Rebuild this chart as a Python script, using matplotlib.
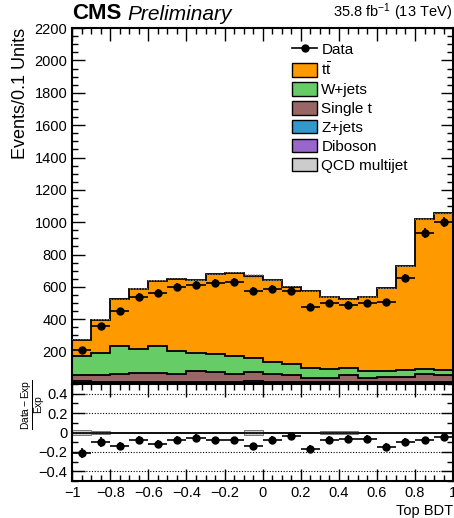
import numpy as np
import matplotlib
matplotlib.use('Agg')
import matplotlib.pyplot as plt
from matplotlib.patches import Patch
from matplotlib.lines import Line2D

plt.rcParams['font.family'] = ['Liberation Sans', 'DejaVu Sans']
plt.rcParams['mathtext.fontset'] = 'custom'
plt.rcParams['mathtext.rm'] = 'Liberation Sans'
plt.rcParams['mathtext.it'] = 'Liberation Sans:italic'
plt.rcParams['hatch.linewidth'] = 0.8

# binning of Top BDT
edges = np.linspace(-1, 1, 21)

# event counts per bin
data = [213, 356, 451, 540, 561, 599, 609, 625, 632, 574,
        590, 574, 478, 499, 489, 499, 505, 657, 935, 1001]
# stacked tops of the total, W+jets and single t layers
top_total = [271, 395, 526, 586, 636, 650, 644, 681, 686, 669,
             640, 598, 574, 540, 524, 536, 592, 727, 1017, 1055]
top_wjets = [171, 192, 233, 215, 233, 204, 192, 186, 171, 163,
             136, 123, 101, 94, 101, 80, 80, 84, 94, 84]
top_singlet = [57, 53, 59, 70, 70, 63, 80, 74, 63, 76,
               61, 57, 36, 36, 53, 36, 42, 42, 59, 57]
qcd = [4, 2, 2, 2, 2, 2, 2, 2, 2, 6, 2, 2, 2, 2, 2, 2, 2, 2, 2, 2]
diboson = [3, 3, 3, 3, 3, 3, 3, 3, 3, 3, 2, 2, 2, 2, 2, 2, 2, 2, 2, 2]
zjets = [9, 8, 9, 10, 10, 9, 10, 10, 9, 9, 8, 8, 6, 6, 7, 6, 6, 6, 7, 7]
# relative MC uncertainty
rel_unc = [0.03, 0.012, 0.01, 0.01, 0.01, 0.01, 0.01, 0.01, 0.01, 0.03,
           0.01, 0.01, 0.01, 0.012, 0.012, 0.01, 0.01, 0.008, 0.008, 0.008]

data = np.array(data, float)
top_total = np.array(top_total, float)
top_wjets = np.array(top_wjets, float)
top_singlet = np.array(top_singlet, float)
qcd = np.array(qcd, float)
diboson = np.array(diboson, float)
zjets = np.array(zjets, float)
rel_unc = np.array(rel_unc)

singlet = top_singlet - qcd - diboson - zjets
wjets = top_wjets - top_singlet
ttbar = top_total - top_wjets

# stack order bottom -> top
layers = [
    (qcd, '#cccccc', 'QCD multijet'),
    (diboson, '#9966cc', 'Diboson'),
    (zjets, '#3399cc', 'Z+jets'),
    (singlet, '#996666', 'Single t'),
    (wjets, '#66cc66', 'W+jets'),
    (ttbar, '#ff9900', r't$\bar{\mathrm{t}}$'),
]

centers = 0.5 * (edges[1:] + edges[:-1])
half = 0.5 * (edges[1] - edges[0])

fig = plt.figure(figsize=(4.54, 5.18), dpi=100)
ax = fig.add_axes([0.159, 0.2587, 0.839, 0.687])
rax = fig.add_axes([0.159, 0.0714, 0.839, 0.1873], sharex=ax)

base = np.zeros(len(data))
for vals, col, lab in layers:
    ax.stairs(base + vals, edges, baseline=base, fill=True, color=col,
              zorder=2)
    ax.stairs(base + vals, edges, color='black', lw=1.3, zorder=3)
    base = base + vals
total = base

# MC uncertainty band
unc = rel_unc * total
ax.stairs(total + unc, edges, baseline=total - unc, fill=True,
          facecolor='none', edgecolor='#888888', hatch='......', lw=0,
          zorder=4)

ax.errorbar(centers, data, xerr=half, yerr=np.sqrt(data), fmt='o',
            color='black', ms=5, lw=1.2, capsize=0, zorder=5)

ax.set_xlim(-1, 1)
ax.set_ylim(0, 2200)
ax.set_yticks(np.arange(200, 2201, 200))
ax.set_yticks(np.arange(0, 2201, 50), minor=True)
ax.set_xticks(np.arange(-1, 1.01, 0.2))
ax.set_xticks(np.arange(-1, 1.01, 0.05), minor=True)
ax.tick_params(axis='x', labelbottom=False)
ax.set_ylabel('Events/0.1 Units', fontsize=13, loc='top')

for a in (ax, rax):
    a.tick_params(which='both', direction='in', top=True, right=True,
                  labelsize=10.5, width=1)
    a.tick_params(which='major', length=9)
    a.tick_params(which='minor', length=4.5)
    for s in a.spines.values():
        s.set_linewidth(1.5)

handles = [Line2D([], [], color='black', marker='o', ms=5, lw=1.2)]
labels = ['Data']
for vals, col, lab in reversed(layers):
    handles.append(Patch(facecolor=col, edgecolor='black', lw=1))
    labels.append(lab)
ax.legend(handles, labels, loc='upper left', bbox_to_anchor=(0.55, 0.99),
          frameon=False, fontsize=11, handlelength=1.6, handleheight=1.0,
          handletextpad=0.3, labelspacing=0.25, borderpad=0.2)

fig.text(0.158, 0.953, 'CMS', fontsize=16, fontweight='bold',
         ha='left', va='bottom')
fig.text(0.28, 0.953, 'Preliminary', fontsize=15, style='italic',
         ha='left', va='bottom')
fig.text(0.995, 0.955, r'35.8 fb$^{-1}$ (13 TeV)', fontsize=10.5,
         ha='right', va='bottom')

# ratio panel
ratio = data / total - 1
rerr = np.sqrt(data) / total
rax.stairs(rel_unc, edges, baseline=-rel_unc, fill=True,
           facecolor='#cfcfcf', edgecolor='#666666', hatch='.....', lw=0.6,
           zorder=2)
rax.axhline(0, color='black', lw=1.2, zorder=3)
for yv in (0.4, 0.2, -0.2, -0.4):
    rax.axhline(yv, color='black', lw=0.8, ls=(0, (1, 1.5)), zorder=1)
rax.errorbar(centers, ratio, xerr=half, yerr=rerr, fmt='o', color='black',
             ms=5, lw=1.2, capsize=0, zorder=5)
rax.set_ylim(-0.5, 0.5)
rax.set_yticks([-0.4, -0.2, 0, 0.2, 0.4])
rax.set_yticklabels(['\u22120.4', '\u22120.2', '0', '0.2', '0.4'])
rax.yaxis.set_minor_locator(matplotlib.ticker.MultipleLocator(0.1))
rax.set_xticks(np.arange(-1, 1.01, 0.2))
rax.set_xticklabels(['\u22121', '\u22120.8', '\u22120.6', '\u22120.4',
                     '\u22120.2', '0', '0.2', '0.4', '0.6', '0.8', '1'])
rax.set_xlabel('Top BDT', fontsize=10.5, loc='right', labelpad=3)
fig.text(0.075, 0.218, r'$\frac{\mathrm{Data-Exp}}{\mathrm{Exp}}$',
         fontsize=10.5, rotation=90, ha='center', va='center')

fig.savefig('out.png', dpi=100)
